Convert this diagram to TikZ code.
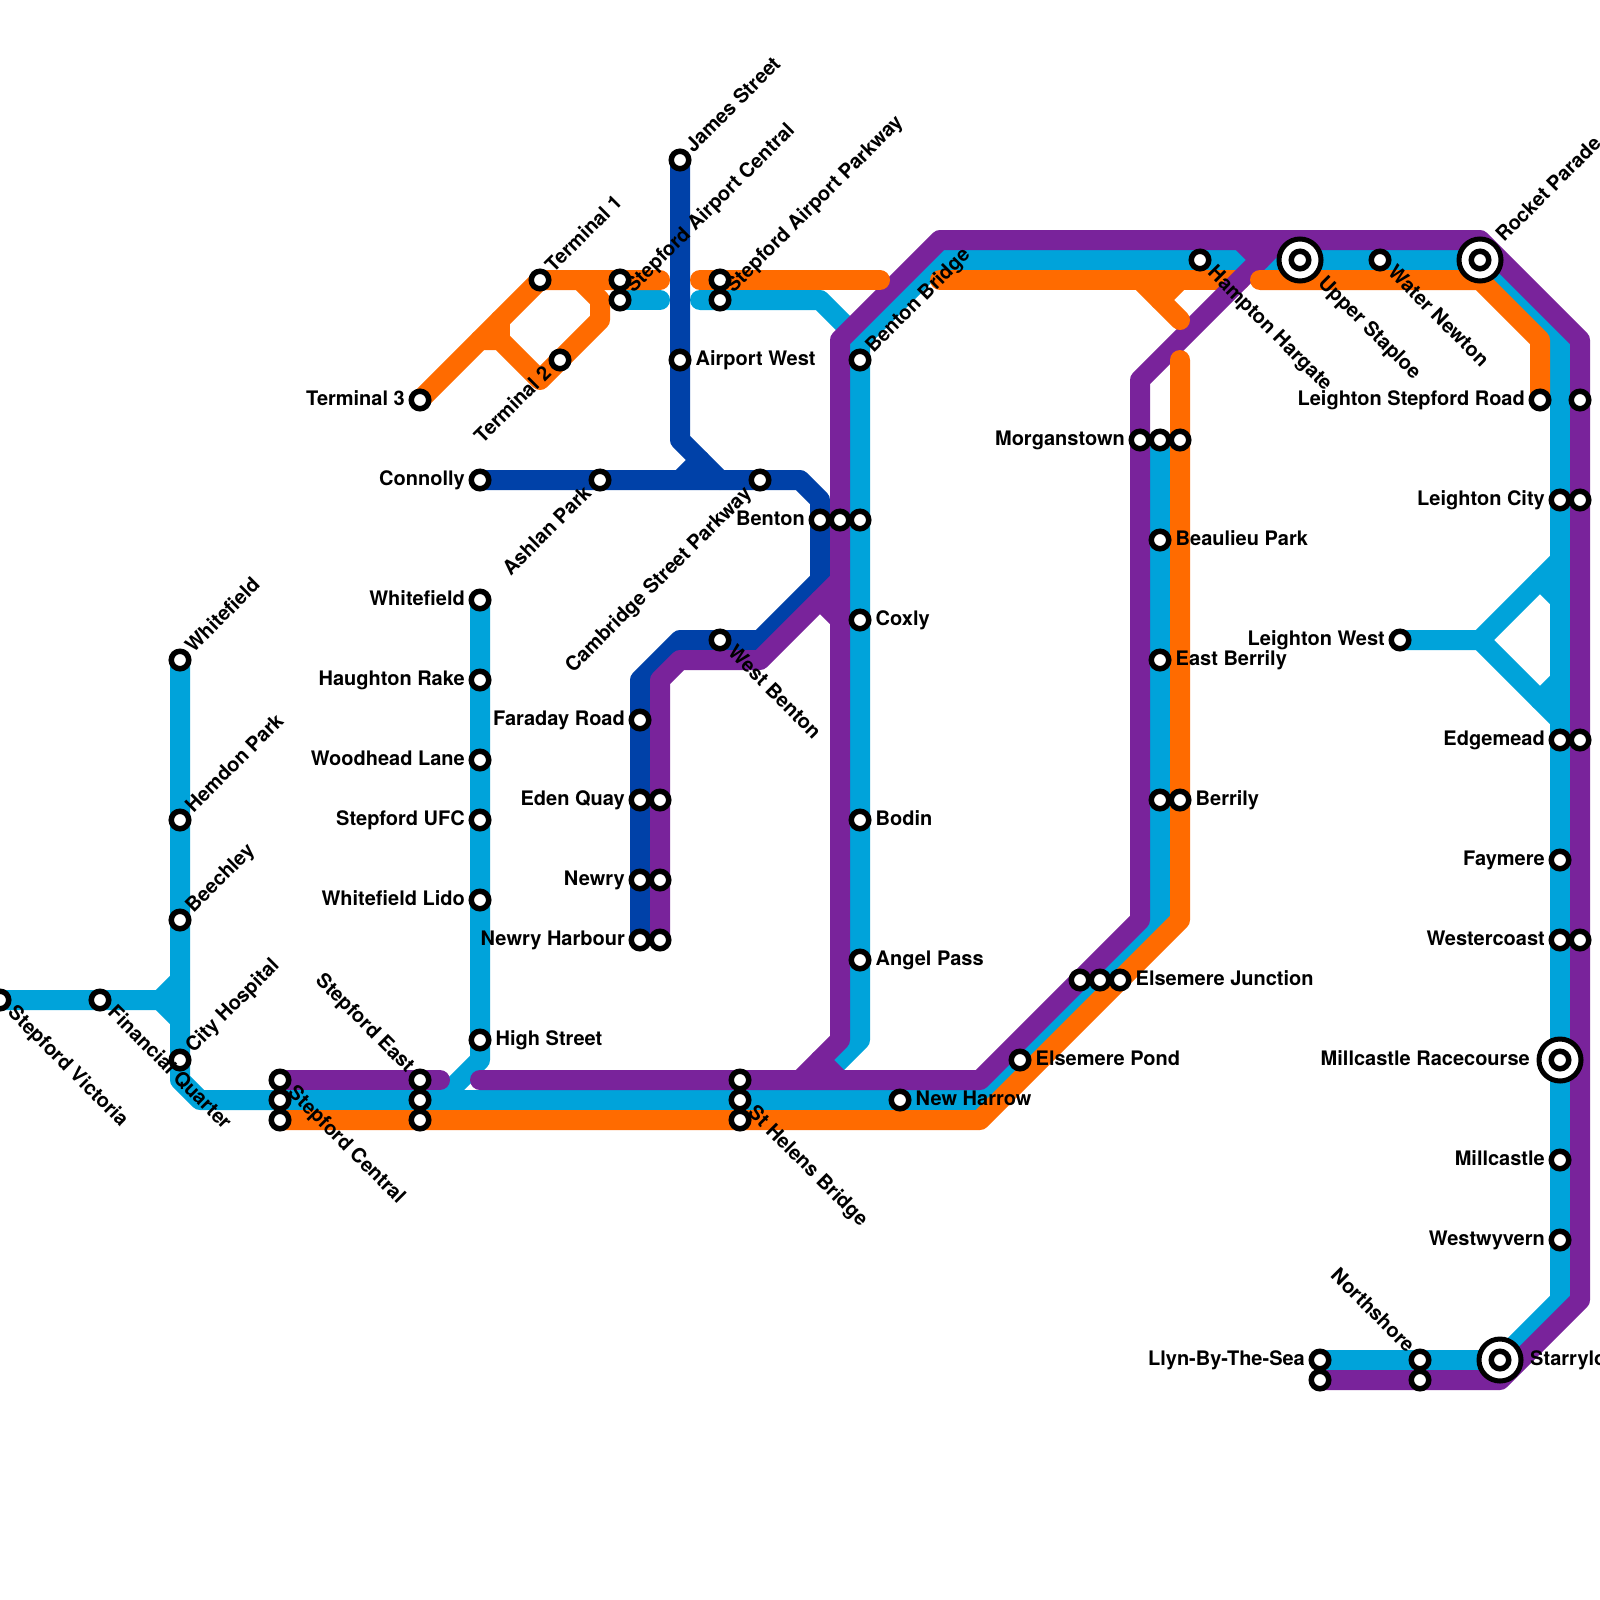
\documentclass[tikz,border=0pt]{standalone}
\usepackage{fontspec}
\setmainfont{TeX Gyre Heros}
\usetikzlibrary{backgrounds}
\definecolor{lblue}{HTML}{00A3DA}
\definecolor{dblue}{HTML}{0041A8}
\definecolor{mpurple}{HTML}{79239B}
\definecolor{morange}{HTML}{FF6B00}
\tikzset{
 metro/.style={line width=20pt,line join=round,line cap=round},
 lb/.style={metro,draw=lblue},
 db/.style={metro,draw=dblue},
 pu/.style={metro,draw=mpurple},
 og/.style={metro,draw=morange},
 stn/.style={circle,draw=black,fill=white,line width=5.5pt,inner sep=0pt,minimum size=17.5pt},
 bigstn/.style={circle,draw=black,fill=white,line width=5pt,inner sep=0pt,minimum size=42pt},
 lab/.style={font=\fontsize{20pt}{20pt}\selectfont\bfseries,inner sep=0pt,text=black},
}
% station: name x y
\newcommand\stn[3]{\node[stn] (#1) at (#2,#3) {};}
\newcommand\bigs[3]{\node[bigstn] (#1) at (#2,#3) {};\node[stn] (#1-c) at (#2,#3) {};}
% labels: station, text
\newcommand\lR[2]{\node[lab,anchor=base west,xshift=15.5pt,yshift=-5pt] (#1-l) at (#1.center) {#2};}
\newcommand\lL[2]{\node[lab,anchor=base east,xshift=-15pt,yshift=-5pt] (#1-l) at (#1.center) {#2};}
\newcommand\lUR[2]{\node[lab,rotate=45,anchor=base west,xshift=14pt,yshift=-5pt] (#1-l) at (#1.center) {#2};}
\newcommand\lDR[2]{\node[lab,rotate=-45,anchor=base west,xshift=14.5pt,yshift=-5pt] (#1-l) at (#1.center) {#2};}
\newcommand\lDL[2]{\node[lab,rotate=45,anchor=base east,xshift=-15.5pt,yshift=-5pt] (#1-l) at (#1.center) {#2};}
\newcommand\lUL[2]{\node[lab,rotate=-45,anchor=base east,xshift=-14pt,yshift=-5pt] (#1-l) at (#1.center) {#2};}
\begin{document}
\begin{tikzpicture}[x=1pt,y=-1pt]
\useasboundingbox (0,0) rectangle (1600,1600);
\clip (0,0) rectangle (1600,1600);
% stations
\stn{sv}{0}{1000}\stn{fq}{100}{1000}
\stn{wf}{180}{660}\stn{hp}{180}{820}\stn{bc}{180}{920}\stn{ch}{180}{1060}
\stn{scp}{280}{1080}\stn{scb}{280}{1100}\stn{sco}{280}{1120}
\stn{sep}{420}{1080}\stn{seb}{420}{1100}\stn{seo}{420}{1120}
\stn{shp}{740}{1080}\stn{shb}{740}{1100}\stn{sho}{740}{1120}
\stn{nh}{900}{1100}\stn{ep}{1020}{1060}
\stn{ejp}{1080}{980}\stn{ejb}{1100}{980}\stn{ejo}{1120}{980}
\stn{t3}{420}{400}\stn{t1}{540}{280}\stn{t2}{560}{360}
\stn{saco}{620}{280}\stn{sacb}{620}{300}\stn{sapo}{720}{280}\stn{sapb}{720}{300}
\stn{js}{680}{160}\stn{aw}{680}{360}
\stn{con}{480}{480}\stn{ash}{600}{480}\stn{csp}{760}{480}
\stn{bed}{820}{520}\stn{bep}{840}{520}\stn{beb}{860}{520}
\stn{bb}{860}{360}\stn{cox}{860}{620}\stn{bod}{860}{820}\stn{ang}{860}{960}
\stn{wb}{720}{640}
\stn{fr}{640}{720}\stn{eqd}{640}{800}\stn{eqp}{660}{800}
\stn{nyd}{640}{880}\stn{nyp}{660}{880}\stn{nhd}{640}{940}\stn{nhp}{660}{940}
\stn{whf}{480}{600}\stn{hr}{480}{680}\stn{wl}{480}{760}\stn{su}{480}{820}\stn{wfl}{480}{900}\stn{hs}{480}{1040}
\stn{mop}{1140}{440}\stn{mob}{1160}{440}\stn{moo}{1180}{440}
\stn{bp}{1160}{540}\stn{eb}{1160}{660}\stn{brb}{1160}{800}\stn{bro}{1180}{800}
\stn{hh}{1200}{260}\bigs{us}{1300}{260}\stn{wn}{1380}{260}\bigs{rp}{1480}{260}
\stn{lsr}{1540}{400}\stn{lsp}{1580}{400}
\stn{lcb}{1560}{500}\stn{lcp}{1580}{500}
\stn{lw}{1400}{640}
\stn{emb}{1560}{740}\stn{emp}{1580}{740}
\stn{fay}{1560}{860}\stn{wcb}{1560}{940}\stn{wcp}{1580}{940}
\bigs{mr}{1560}{1060}\stn{mc}{1560}{1160}\stn{wv}{1560}{1240}
\bigs{st}{1500}{1360}
\stn{nsb}{1420}{1360}\stn{nsp}{1420}{1380}
\stn{llb}{1320}{1360}\stn{llp}{1320}{1380}
% labels
\lDR{sv}{Stepford Victoria}\lDR{fq}{Financial Quarter}
\lUR{wf}{Whitefield}\lUR{hp}{Hemdon Park}\lUR{bc}{Beechley}\lUR{ch}{City Hospital}
\lDR{scp}{Stepford Central}\lUL{sep}{Stepford East}\lDR{shb}{St Helens Bridge}
\lR{nh}{New Harrow}\lR{ep}{Elsemere Pond}\lR{ejo}{Elsemere Junction}
\lL{t3}{Terminal 3}\lUR{t1}{Terminal 1}\lDL{t2}{Terminal 2}
\lUR{sacb}{Stepford Airport Central}\lUR{sapb}{Stepford Airport Parkway}
\lUR{js}{James Street}\lR{aw}{Airport West}
\lL{con}{Connolly}\lDL{ash}{Ashlan Park}\lDL{csp}{Cambridge Street Parkway}
\lL{bed}{Benton}\lUR{bb}{Benton Bridge}\lR{cox}{Coxly}\lR{bod}{Bodin}\lR{ang}{Angel Pass}
\lDR{wb}{West Benton}\lL{fr}{Faraday Road}\lL{eqd}{Eden Quay}\lL{nyd}{Newry}\lL{nhd}{Newry Harbour}
\lL{whf}{Whitefield}\lL{hr}{Haughton Rake}\lL{wl}{Woodhead Lane}\lL{su}{Stepford UFC}\lL{wfl}{Whitefield Lido}\lR{hs}{High Street}
\lL{mop}{Morganstown}\lR{bp}{Beaulieu Park}\lR{eb}{East Berrily}\lR{bro}{Berrily}
\lDR{hh}{Hampton Hargate}\lDR{wn}{Water Newton}
\node[lab,rotate=-45,anchor=base west,xshift=29pt,yshift=-5pt] (us-l) at (us.center) {Upper Staploe};
\node[lab,rotate=45,anchor=base west,xshift=29pt,yshift=-5pt] (rp-l) at (rp.center) {Rocket Parade};
\lL{lsr}{Leighton Stepford Road}\lL{lcb}{Leighton City}\lL{lw}{Leighton West}\lL{emb}{Edgemead}\lL{fay}{Faymere}\lL{wcb}{Westercoast}
\node[lab,anchor=base east,xshift=-30pt,yshift=-5pt] (mr-l) at (mr.center) {Millcastle Racecourse};
\lL{mc}{Millcastle}\lL{wv}{Westwyvern}
\node[lab,anchor=base west,xshift=30pt,yshift=-5pt] (st-l) at (st.center) {Starryloe};
\lUL{nsb}{Northshore}\lL{llb}{Llyn-By-The-Sea}
% bends
\coordinate (a1) at (160,1000);\coordinate (a2) at (180,980);\coordinate (a3) at (180,1020);
\coordinate (a4) at (180,1080);\coordinate (a5) at (200,1100);
\coordinate (a6) at (980,1100);\coordinate (a7) at (1160,920);
\coordinate (h1) at (480,1060);\coordinate (h2) at (440,1100);
\coordinate (c1) at (800,1100);\coordinate (c2) at (860,1040);\coordinate (c3) at (860,340);
\coordinate (c4) at (940,260);\coordinate (c5) at (1560,340);\coordinate (c6) at (1560,1300);
\coordinate (j1) at (660,300);\coordinate (j2) at (700,300);\coordinate (j3) at (820,300);
\coordinate (t0) at (1480,640);\coordinate (t1a) at (1560,560);\coordinate (t1b) at (1560,720);
\coordinate (t2a) at (1540,580);\coordinate (t2b) at (1560,600);\coordinate (t3a) at (1540,700);\coordinate (t3b) at (1560,680);
\coordinate (d1) at (680,440);\coordinate (d2) at (720,480);\coordinate (d3) at (680,480);\coordinate (d4) at (700,460);
\coordinate (d5) at (800,480);\coordinate (d6) at (820,500);\coordinate (d7) at (820,580);\coordinate (d8) at (760,640);
\coordinate (d9) at (680,640);\coordinate (d10) at (640,680);
\coordinate (p1) at (440,1080);\coordinate (p2) at (480,1080);\coordinate (p3) at (980,1080);\coordinate (p4) at (1140,920);
\coordinate (p5) at (1140,380);\coordinate (p6) at (1280,240);\coordinate (p7) at (1240,240);\coordinate (p8) at (1260,260);
\coordinate (p9) at (940,240);\coordinate (p10) at (840,340);\coordinate (p11) at (840,1040);\coordinate (p12) at (800,1080);
\coordinate (p13) at (820,1060);\coordinate (p14) at (840,1080);
\coordinate (p15) at (1480,240);\coordinate (p16) at (1580,340);\coordinate (p17) at (1580,1300);\coordinate (p18) at (1500,1380);
\coordinate (p19) at (840,580);\coordinate (p20) at (760,660);\coordinate (p21) at (680,660);\coordinate (p22) at (660,680);
\coordinate (p23) at (820,600);\coordinate (p24) at (840,620);
\coordinate (o1) at (480,340);\coordinate (o2) at (500,340);\coordinate (o3) at (540,380);\coordinate (o4) at (600,320);
\coordinate (o5) at (600,300);\coordinate (o6) at (580,280);\coordinate (o7) at (500,320);\coordinate (o8) at (660,280);
\coordinate (o9) at (700,280);\coordinate (o10) at (880,280);\coordinate (o11) at (940,280);\coordinate (o12) at (1240,280);
\coordinate (o13) at (1140,280);\coordinate (o14) at (1180,320);\coordinate (o15) at (1160,300);\coordinate (o16) at (1180,280);
\coordinate (o17) at (1260,280);\coordinate (o18) at (1480,280);\coordinate (o19) at (1540,340);
\coordinate (o20) at (980,1120);\coordinate (o21) at (1180,920);\coordinate (o22) at (1180,360);
\begin{pgfonlayer}{background}
% light blue
\draw[lb] (sv.center)--(a1)--(a2);
\draw[lb] (a1)--(a3);
\draw[lb] (wf.center)--(a4)--(a5)--(a6)--(a7)--(mob.center);
\draw[lb] (whf.center)--(h1)--(h2);
\draw[lb] (c1)--(c2)--(c3)--(c4)--(rp.center)--(c5)--(c6)--(st.center)--(llb.center);
\draw[lb] (sacb.center)--(j1);
\draw[lb] (j2)--(j3)--(c3);
\draw[lb] (lw.center)--(t0)--(t1a);
\draw[lb] (t0)--(t1b);
\draw[lb] (t2a)--(t2b);
\draw[lb] (t3a)--(t3b);
% dark blue
\draw[db] (js.center)--(d1)--(d2);
\draw[db] (d3)--(d4);
\draw[db] (con.center)--(d5)--(d6)--(d7)--(d8)--(d9)--(d10)--(nhd.center);
% orange under purple
\draw[og] (o11)--(o12);
% purple
\draw[pu] (scp.center)--(p1);
\draw[pu] (p2)--(p3)--(p4)--(p5)--(p6);
\draw[pu] (p7)--(p8);
\draw[pu] (p12)--(p11)--(p10)--(p9)--(p15)--(p16)--(p17)--(p18)--(llp.center);
\draw[pu] (p13)--(p14);
\draw[pu] (p19)--(p20)--(p21)--(p22)--(nhp.center);
\draw[pu] (p23)--(p24);
% orange
\draw[og] (t3.center)--(t1.center)--(o8);
\draw[og] (o1)--(o2)--(o3)--(o4)--(o5)--(o6);
\draw[og] (o2)--(o7);
\draw[og] (o9)--(o10);
\draw[og] (o13)--(o14);
\draw[og] (o15)--(o16);
\draw[og] (o17)--(o18)--(o19)--(lsr.center);
\draw[og] (sco.center)--(o20)--(o21)--(o22);
\end{pgfonlayer}
\end{tikzpicture}
\end{document}
